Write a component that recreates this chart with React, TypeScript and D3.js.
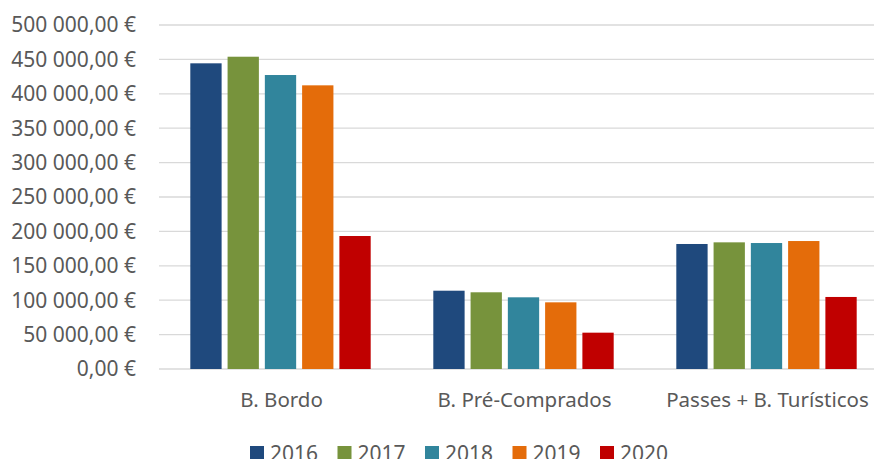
import React, {useRef, useEffect} from 'react';
import * as d3 from 'd3';

// data
const categories = ['B. Bordo', 'B. Pré-Comprados', 'Passes + B. Turísticos'];
const years = ['2016', '2017', '2018', '2019', '2020'];
const values2016 = [444300, 113800, 181700];
const values2017 = [453900, 111500, 184100];
const values2018 = [427300, 104200, 183100];
const values2019 = [412300, 96900, 186000];
const values2020 = [193300, 52800, 104700];
const yTicks = [0, 50000, 100000, 150000, 200000, 250000, 300000, 350000, 400000, 450000, 500000];
const colors = ['#1F497D', '#77933C', '#31859C', '#E46C0A', '#C00000'];

const series = [values2016, values2017, values2018, values2019, values2020];

export default function App() {
    const ref = useRef<SVGSVGElement>(null);

    const width = 874;
    const height = 459;
    const margin = {top: 25, left: 159, bottom: 369};
    const font = '"Noto Sans", "Open Sans", sans-serif';
    const textColor = '#595959';

    useEffect(() => {
        const svg = d3.select(ref.current);
        svg.selectAll('*').remove();

        // scales - the plot runs past the right edge of the picture (cropped)
        const x0 = d3.scaleBand().domain(categories).range([margin.left, margin.left + 243 * 3]);
        const x1 = d3.scaleBand().domain(years).range([0, x0.bandwidth()])
            .paddingInner(0.16).paddingOuter(0.84);
        const y = d3.scaleLinear().domain([0, 500000]).range([margin.bottom, margin.top]);

        // gridlines
        svg.append('g')
            .selectAll('line')
            .data(yTicks)
            .enter()
            .append('line')
            .attr('x1', margin.left)
            .attr('x2', width)
            .attr('y1', d => y(d))
            .attr('y2', d => y(d))
            .style('stroke', '#d9d9d9')
            .style('stroke-width', 1.3);

        // y labels
        const fmt = (v: number) => {
            const s = d3.format(',.2f')(v);
            return s.replace(/,/g, ' ').replace('.', ',') + ' €';
        };
        svg.append('g')
            .selectAll('text')
            .data(yTicks)
            .enter()
            .append('text')
            .attr('x', 136)
            .attr('y', d => y(d))
            .attr('dy', '0.35em')
            .attr('text-anchor', 'end')
            .style('font-family', font)
            .style('font-size', '21px')
            .style('fill', textColor)
            .text(d => fmt(d));

        // bars
        const g = svg.append('g');
        series.forEach((vals, i) => {
            g.append('g')
                .selectAll('rect')
                .data(vals)
                .enter()
                .append('rect')
                .attr('x', (d, j) => (x0(categories[j]) as number) + (x1(years[i]) as number))
                .attr('y', d => y(d))
                .attr('width', x1.bandwidth())
                .attr('height', d => y(0) - y(d))
                .style('fill', colors[i]);
        });

        // x labels
        svg.append('g')
            .selectAll('text')
            .data(categories)
            .enter()
            .append('text')
            .attr('x', d => (x0(d) as number) + x0.bandwidth() / 2 + 1)
            .attr('y', 407)
            .attr('text-anchor', 'middle')
            .style('font-family', font)
            .style('font-size', '20.5px')
            .style('fill', textColor)
            .text(d => d);

        // legend (cut by the bottom edge, as in the source picture)
        const legend = svg.append('g')
            .selectAll('g')
            .data(years)
            .enter()
            .append('g')
            .attr('transform', (d, i) => 'translate(' + (250 + i * 87.5) + ',0)');
        legend.append('rect')
            .attr('x', 0)
            .attr('y', 446)
            .attr('width', 14)
            .attr('height', 14)
            .style('fill', (d, i) => colors[i]);
        legend.append('text')
            .attr('x', 20)
            .attr('y', 461)
            .style('font-family', font)
            .style('font-size', '21px')
            .style('fill', textColor)
            .text(d => d);
    }, []);

    return (
        <svg ref={ref} width={width} height={height}
            style={{position: 'absolute', left: 0, top: 0, background: '#fff'}} />
    );
}
